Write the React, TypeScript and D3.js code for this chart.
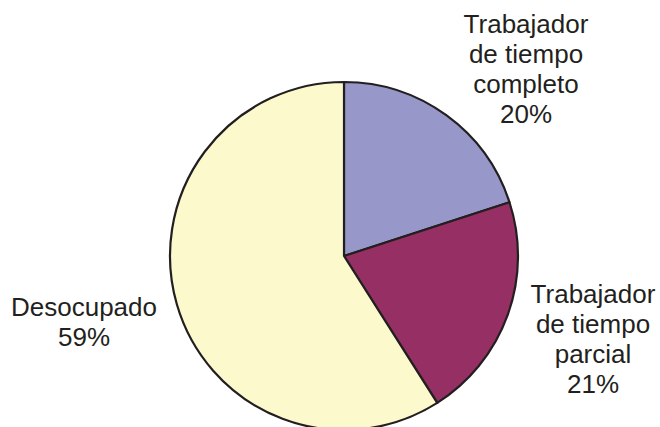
import React from "react";
import * as d3 from "d3";

const categories = ["Trabajador de tiempo completo", "Trabajador de tiempo parcial", "Desocupado"];
const values = [20, 21, 59];
const labelLines = [
  ["Trabajador", "de tiempo", "completo", "20%"],
  ["Trabajador", "de tiempo", "parcial", "21%"],
  ["Desocupado", "59%"],
];
const colors = ["#9797CA", "#962F63", "#FCFACD"];

const W = 660;
const H = 427;
const cx = 344;
const cy = 256;
const R = 174;

// label anchor positions (center x, first baseline y)
const labelPos = [
  [526, 33],
  [593, 303],
  [84, 316],
];

export default function App() {
  const pie = d3.pie<number>().sort(null).value((d) => d)(values);
  const arc = d3.arc<d3.PieArcDatum<number>>().innerRadius(0).outerRadius(R);
  return (
    <svg
      width={W}
      height={H}
      style={{ position: "absolute", left: 0, top: 0, background: "#fff" }}
      fontFamily="Liberation Sans, Arial, sans-serif"
    >
      <g transform={`translate(${cx},${cy})`}>
        {pie.map((p, i) => (
          <path
            key={categories[i]}
            d={arc(p) || ""}
            fill={colors[i]}
            stroke="#231F20"
            strokeWidth={2.2}
            strokeLinejoin="round"
          />
        ))}
      </g>
      {labelLines.map((lines, i) => (
        <text
          key={i}
          x={labelPos[i][0]}
          y={labelPos[i][1]}
          textAnchor="middle"
          fontSize={26}
          fill="#231F20"
        >
          {lines.map((l, j) => (
            <tspan key={j} x={labelPos[i][0]} dy={j === 0 ? 0 : 30}>
              {l}
            </tspan>
          ))}
        </text>
      ))}
    </svg>
  );
}
